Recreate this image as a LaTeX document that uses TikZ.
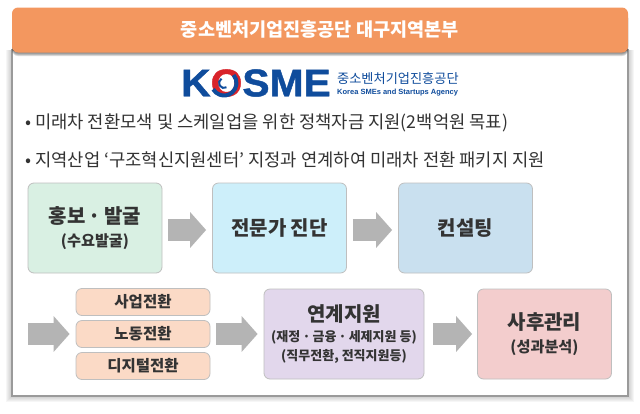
\documentclass[tikz,border=0pt]{standalone}
\usepackage{fontspec}
\setmainfont{Noto Sans CJK KR}
\newfontfamily\logofont[FakeStretch=1.06,BoldFeatures={FakeBold=1.2}]{Liberation Sans}
\newfontfamily\agencyfont{Liberation Sans}
\usepackage{tikz}
\usetikzlibrary{arrows.meta}

\definecolor{headorange}{HTML}{F3975F}
\definecolor{framegray}{HTML}{9A9A9A}
\definecolor{arrowgray}{HTML}{B4B4B4}
\definecolor{inkgray}{HTML}{333333}
\definecolor{logoblue}{HTML}{0F4C9C}
\definecolor{logored}{HTML}{D8232A}
\definecolor{boxgreen}{HTML}{D9F0E3}
\definecolor{boxcyan}{HTML}{CDEFFA}
\definecolor{boxblue}{HTML}{C9E0EF}
\definecolor{boxpeach}{HTML}{FBDAC6}
\definecolor{boxviolet}{HTML}{E2D7EC}
\definecolor{boxpink}{HTML}{F3CDCD}

\newcommand{\titlesize}{\fontsize{20}{24}\bfseries\selectfont}
\newcommand{\subsize}{\fontsize{15.2}{20}\bfseries\selectfont}
\newcommand{\notesize}{\fontsize{13}{20}\bfseries\selectfont}

\begin{document}
\begin{tikzpicture}[x=1pt,y=-1pt,
    box/.style={draw=black!25, line width=0.8pt, rounded corners=6pt, text=inkgray, align=center, inner sep=0pt, minimum width=134pt, minimum height=90pt},
    smallbox/.style={box, fill=boxpeach, minimum height=27pt, font=\fontsize{15.5}{18}\bfseries\selectfont},
    flow/.style={draw=arrowgray, line width=22pt, -{Triangle[length=16pt,width=35pt]}, shorten <=6pt, shorten >=6pt},
    bullet/.style={anchor=west, inner sep=0pt, text=inkgray, font=\fontsize{17.7}{20}\selectfont}]

  \useasboundingbox (0,0) rectangle (640,413);

  % frame and header
  \foreach \d in {1,...,6}
     \fill[black, opacity=0.035] (12-\d,50) rectangle (628+\d,396+\d);
  \node[draw=framegray, line width=1.6pt, fill=white, minimum width=616pt, minimum height=346pt, inner sep=0pt] (frame) at (320,223) {};
  \foreach \d in {1,...,4}
     \fill[black, opacity=0.14, rounded corners=6pt] (12,12) rectangle (628,52+\d);
  \node[fill=headorange, rounded corners=6pt, minimum width=616pt, minimum height=45pt, inner sep=0pt, text=white, font=\fontsize{18.6}{22}\bfseries\selectfont] (header) at (320,30) {중소벤처기업진흥공단 대구지역본부};

  % logo
  \node[inner sep=0pt, text=logoblue, font=\logofont\fontsize{38.5}{40}\bfseries\selectfont] (kosme) at (256,83) {K{\color{logored}O}SME};
  \draw[logoblue, line width=4pt] (224,83) ++(-40:12.5) arc[start angle=-40, end angle=150, radius=12.5];
  \draw[logoblue, line width=2pt] (224,83) ++(60:5) arc[start angle=60, end angle=240, radius=5];
  \node[anchor=west, inner sep=0pt, text=logoblue, font=\fontsize{13.2}{15}\selectfont] (kosmekr) at (337,78) {중소벤처기업진흥공단};
  \node[anchor=west, inner sep=0pt, text=logoblue, font=\agencyfont\fontsize{7.5}{10}\bfseries\selectfont] (kosmeen) at (337,93) {Korea SMEs and Startups Agency};

  % bullets
  \node[bullet] (goal) at (25,123) {• 미래차 전환모색 및 스케일업을 위한 정책자금 지원(2백억원 목표)};
  \node[bullet] (link) at (25,160) {• 지역산업 ‘구조혁신지원센터’ 지정과 연계하여 미래차 전환 패키지 지원};

  % first row
  \node[box, fill=boxgreen] (promo) at (95,228) {{\titlesize 홍보\,·\,발굴}\\[7pt]{\subsize (수요발굴)}};
  \node[box, fill=boxcyan, font=\titlesize] (expert) at (279.5,228) {전문가 진단};
  \node[box, fill=boxblue, font=\titlesize] (consult) at (465.5,228) {컨설팅};

  % second row
  \coordinate (start) at (22,334);
  \node[smallbox] (business) at (143,302) {사업전환};
  \node[smallbox] (labor) at (143,334) {노동전환};
  \node[smallbox] (digital) at (143,366) {디지털전환};
  \node[box, fill=boxviolet, minimum width=160pt] (support) at (344,334) {{\titlesize 연계지원}\\[6pt]{\notesize (재정\,·\,금융\,·\,세제지원 등)}\\[5pt]{\notesize (직무전환, 전직지원등)}};
  \node[box, fill=boxpink] (after) at (544.5,334) {{\titlesize 사후관리}\\[7pt]{\subsize (성과분석)}};

  \foreach \from/\to in {promo/expert, expert/consult}
     \draw[flow] ([yshift=-2pt]\from.east) -- ([yshift=-2pt]\to.west);

  \foreach \from/\to in {start/labor.west, labor/support.west}
     \draw[flow] (\from) -- (\to);
  \draw[flow, shorten <=9pt, shorten >=5pt] (support) -- (after);

\end{tikzpicture}
\end{document}
